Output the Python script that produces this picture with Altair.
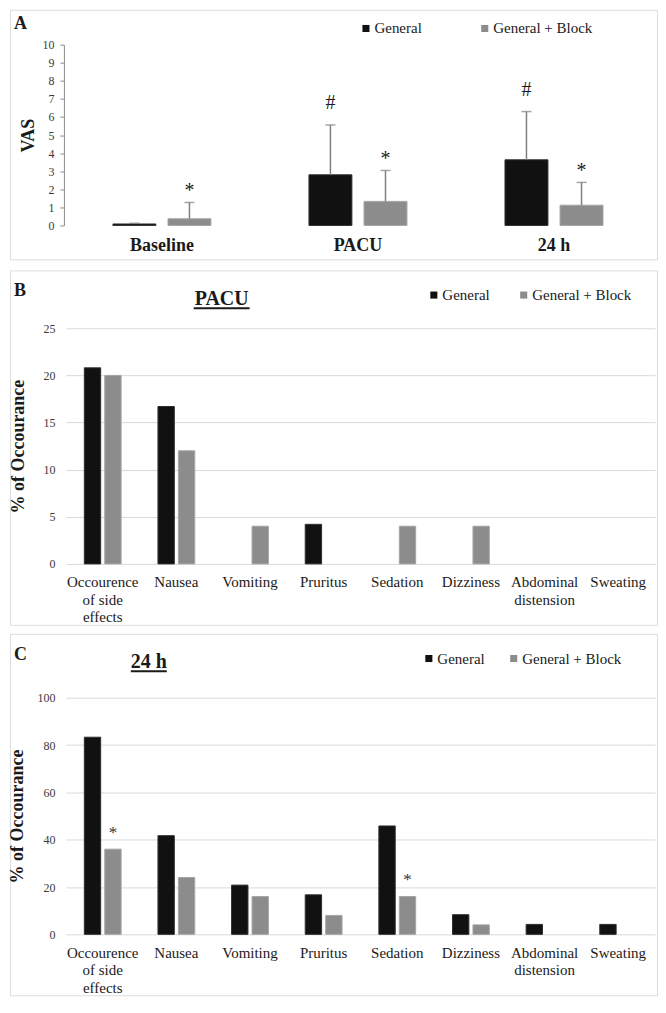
import altair as alt
import pandas as pd

FONT = "Liberation Serif"
INK = "#1a1a1a"
groups = ["General", "General + Block"]
group_colors = ["#111111", "#8c8c8c"]
group_edges = ["#2e2e2e", "#a6a6a6"]

# ---------------- Panel A : VAS ----------------
vas_time = ["Baseline", "PACU", "24 h"]
vas_general = [0.08, 2.8, 3.63]
vas_general_sd = [0.04, 2.76, 2.67]
vas_block = [0.37, 1.33, 1.12]
vas_block_sd = [0.9, 1.71, 1.26]
vas_general_sig = ["", "#", "#"]
vas_block_sig = ["*", "*", "*"]
vas_ticks = [0, 1, 2, 3, 4, 5, 6, 7, 8, 9, 10]

# ---------------- Panels B / C : side effects ----------------
effects = ["Occourence of side effects", "Nausea", "Vomiting", "Pruritus",
           "Sedation", "Dizziness", "Abdominal distension", "Sweating"]
pacu_general = [20.8, 16.7, 0, 4.2, 0, 0, 0, 0]
pacu_block = [20, 12, 4, 0, 4, 4, 0, 0]
h24_general = [83.3, 41.7, 20.8, 16.7, 45.8, 8.3, 4.2, 4.2]
h24_block = [36, 24, 16, 8, 16, 4, 0, 0]
h24_block_sig = ["*", "", "", "", "*", "", "", ""]
pacu_ticks = [0, 5, 10, 15, 20, 25]
h24_ticks = [0, 20, 40, 60, 80, 100]

W = 648


def legend(x, y, colpad):
    return alt.Legend(orient="none", legendX=x, legendY=y, direction="horizontal",
                      title=None, symbolType="square", symbolSize=50,
                      symbolStrokeWidth=0, labelFont=FONT, labelFontSize=15,
                      labelColor=INK, labelOffset=1, columnPadding=colpad, padding=0)


def color_enc(x, y, colpad):
    return alt.Color("group:N", scale=alt.Scale(domain=groups, range=group_colors),
                     legend=legend(x, y, colpad))


stroke_enc = alt.Stroke("group:N", scale=alt.Scale(domain=groups, range=group_edges),
                        legend=None)


def text_at(txt, x, y, size, weight="bold", align="left", baseline="middle"):
    return alt.Chart(pd.DataFrame({"t": [txt]})).mark_text(
        font=FONT, fontSize=size, fontWeight=weight, color=INK,
        align=align, baseline=baseline).encode(
        x=alt.value(x), y=alt.value(y), text="t:N")


def underline(x1, x2, y):
    return alt.Chart(pd.DataFrame({"t": [0]})).mark_rule(
        color=INK, strokeWidth=2).encode(
        x=alt.value(x1), x2=alt.value(x2), y=alt.value(y))


# ---- Panel A ----
vas_df = pd.DataFrame({
    "time": vas_time * 2,
    "group": [groups[0]] * 3 + [groups[1]] * 3,
    "value": vas_general + vas_block,
    "sd": vas_general_sd + vas_block_sd,
    "sig": vas_general_sig + vas_block_sig,
})
vas_df["top"] = vas_df["value"] + vas_df["sd"]

A_H = 250
xA = alt.X("time:N", scale=alt.Scale(domain=vas_time, range=[54, 643],
                                     paddingInner=0.5, paddingOuter=0.25),
           axis=alt.Axis(title=None, labelAngle=0, ticks=False, domain=False,
                         labelFont=FONT, labelFontSize=18, labelFontWeight="bold",
                         labelColor=INK, labelPadding=11, offset=216 - A_H))
xoA = alt.XOffset("group:N", scale=alt.Scale(domain=groups, paddingInner=0.22,
                                             paddingOuter=0))
yA_scale = alt.Scale(domain=[0, 10], range=[216, 35], nice=False)
yA_axis = alt.Axis(title="VAS", values=vas_ticks, grid=False,
                   domainColor="#8c8c8c", tickColor="#8c8c8c", tickSize=4,
                   labelFont=FONT, labelFontSize=12, labelColor="#3a3a3a",
                   labelPadding=6, titleFont=FONT, titleFontSize=18,
                   titleFontWeight="bold", titleColor=INK, titlePadding=4,
                   offset=-54)

baseA = alt.Chart(vas_df)
barsA = baseA.mark_bar(strokeWidth=1).encode(
    x=xA, xOffset=xoA,
    y=alt.Y("value:Q", scale=yA_scale, axis=yA_axis),
    color=color_enc(349, 11, 55), stroke=stroke_enc)
errA = baseA.mark_rule(color="#808080", strokeWidth=1.5).encode(
    x=xA, xOffset=xoA,
    y=alt.Y("value:Q", scale=yA_scale, axis=yA_axis), y2="top:Q")
capA = baseA.mark_tick(orient="horizontal", size=10, thickness=1.5,
                       color="#808080").encode(
    x=xA, xOffset=xoA, y=alt.Y("top:Q", scale=yA_scale, axis=yA_axis))
sigA_gen = baseA.transform_filter(
    "datum.sig != '' && datum.group == 'General'").mark_text(
    font=FONT, fontSize=20, color=INK, baseline="alphabetic", dy=-16).encode(
    x=xA, xOffset=xoA, y=alt.Y("top:Q", scale=yA_scale, axis=yA_axis), text="sig:N")
sigA_blk = baseA.transform_filter(
    "datum.sig != '' && datum.group != 'General'").mark_text(
    font=FONT, fontSize=20, color=INK, baseline="alphabetic", dy=-5).encode(
    x=xA, xOffset=xoA, y=alt.Y("top:Q", scale=yA_scale, axis=yA_axis), text="sig:N")

panelA = alt.layer(barsA, errA, capA, sigA_gen, sigA_blk,
                   text_at("A", 4, 14, 18)).properties(width=W, height=A_H)

# ---- Panels B / C ----
label_expr = ("datum.label == 'Occourence of side effects' ? ['Occourence', 'of side', 'effects'] : "
              "datum.label == 'Abdominal distension' ? ['Abdominal', 'distension'] : datum.label")


def effects_panel(letter, letter_y, title, title_x, title_y, ul, gen, blk, sig,
                  ticks, ymax, height, y_bottom, y_top, leg, title_pad):
    df = pd.DataFrame({
        "effect": effects * 2,
        "group": [groups[0]] * len(effects) + [groups[1]] * len(effects),
        "value": gen + blk,
        "sig": [""] * len(effects) + sig,
    })
    x = alt.X("effect:N", scale=alt.Scale(domain=effects, range=[56, 646],
                                          paddingInner=0.5, paddingOuter=0.25),
              axis=alt.Axis(title=None, labelAngle=0, ticks=False, domain=False,
                            labelFont=FONT, labelFontSize=15, labelColor=INK,
                            labelPadding=11, labelLineHeight=17.5,
                            labelExpr=label_expr, labelLimit=0,
                            offset=y_bottom - height))
    xo = alt.XOffset("group:N", scale=alt.Scale(domain=groups, paddingInner=0.2,
                                                paddingOuter=0))
    ys = alt.Scale(domain=[0, ymax], range=[y_bottom, y_top], nice=False)
    yax = alt.Axis(title="% of Occourance", values=ticks, grid=True,
                   gridColor="#d9d9d9", gridWidth=1, domain=False, ticks=False,
                   labelFont=FONT, labelFontSize=12, labelColor="#3a3a3a",
                   labelPadding=11, titleFont=FONT, titleFontSize=18,
                   titleFontWeight="bold", titleColor=INK, titlePadding=title_pad,
                   offset=-56)
    base = alt.Chart(df)
    bars = base.transform_filter("datum.value > 0").mark_bar(strokeWidth=1).encode(
        x=x, xOffset=xo, y=alt.Y("value:Q", scale=ys, axis=yax),
        color=color_enc(*leg), stroke=stroke_enc)
    stars = base.transform_filter("datum.sig != ''").mark_text(
        font=FONT, fontSize=17, color="#333333", baseline="alphabetic", dy=-11).encode(
        x=x, xOffset=xo, y=alt.Y("value:Q", scale=ys, axis=yax), text="sig:N")
    return alt.layer(
        bars, stars,
        text_at(letter, 4, letter_y, 18),
        text_at(title, title_x, title_y, 20, align="center", baseline="alphabetic"),
        underline(ul[0], ul[1], ul[2]),
    ).properties(width=W, height=height)


panelB = effects_panel("B", 21, "PACU", 212, 35, (184, 240, 38),
                       pacu_general, pacu_block, [""] * len(effects),
                       pacu_ticks, 25, 355, 294, 58, (417, 17, 26), 15)
panelC = effects_panel("C", 21, "24 h", 139, 34, (121, 157, 37.5),
                       h24_general, h24_block, h24_block_sig,
                       h24_ticks, 100, 362, 301, 64, (412, 17, 21), 10)

lower = alt.vconcat(panelB, panelC, spacing=7).resolve_scale(
    color="independent", stroke="independent", x="independent", y="independent",
    xOffset="independent")
chart = alt.vconcat(panelA, lower, spacing=9).resolve_scale(
    color="independent", stroke="independent", x="independent", y="independent",
    xOffset="independent"
).properties(padding={"left": 0, "top": 0, "right": 0, "bottom": 0}).configure_view(
    stroke="#555555", strokeWidth=1.5).configure(background="white", padding=0)

chart.save("out.html", embed_options={"renderer": "svg", "actions": False})
